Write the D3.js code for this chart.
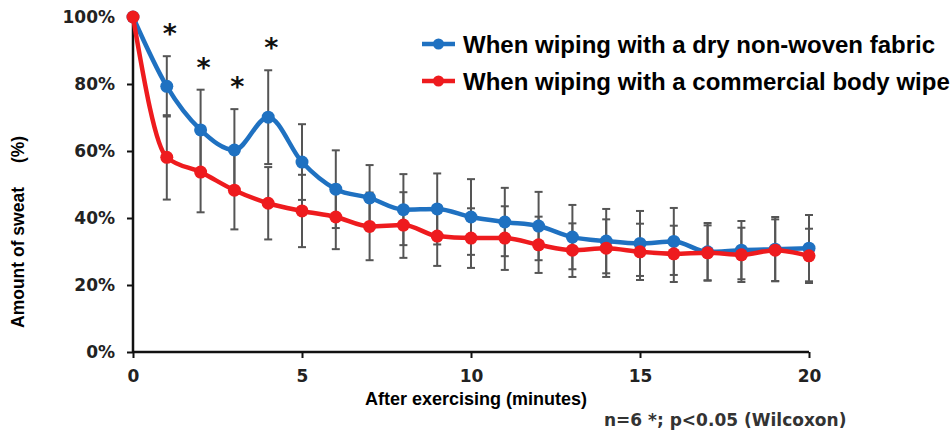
<!DOCTYPE html>
<html>
<head>
<meta charset="utf-8">
<script src="https://cdn.jsdelivr.net/npm/d3@7"></script>
<style>
  html, body { margin: 0; padding: 0; background: #fff; }
  svg { display: block; }
</style>
</head>
<body>
<svg id="chart" width="952" height="434"></svg>
<script>
// ---- data ----
const minutes = [0,1,2,3,4,5,6,7,8,9,10,11,12,13,14,15,16,17,18,19,20];
const dryFabric = [100,79.3,66.3,60.3,70.1,56.7,48.6,46,42.5,42.7,40.3,38.8,37.6,34.3,33.1,32.4,33,29.9,30.4,30.7,31];
const dryFabricSD = [0,9,12,12.2,14,11.3,11.6,9.8,10.6,10.6,11.3,10.2,10.2,9.6,9.6,9.7,10,8.6,8.7,9.6,9.9];
const bodyWipe = [100,58.1,53.7,48.3,44.4,42.1,40.3,37.5,37.9,34.6,34,34,32,30.4,31,29.9,29.3,29.6,29,30.4,28.7];
const bodyWipeSD = [0,12.6,12,11.7,10.8,10.8,9.6,10.1,9.8,8.9,8.9,9.5,8.4,8,8.6,8.4,8.4,8.2,8.1,9.2,8.1];
const significant = [1,2,3,4];
const xTicks = [0,5,10,15,20];
const yTicks = [0,20,40,60,80,100];
const seriesNames = ["When wiping with a dry non-woven fabric","When wiping with a commercial body wipe"];
const seriesColors = ["#1f71c1","#ee1b1e"];

const svg = d3.select("#chart");
const x = d3.scaleLinear().domain([0,20]).range([133,809]);
const y = d3.scaleLinear().domain([0,100]).range([352,17]);

const series = [
  {name: seriesNames[0], color: seriesColors[0], values: dryFabric, sd: dryFabricSD},
  {name: seriesNames[1], color: seriesColors[1], values: bodyWipe, sd: bodyWipeSD}
];

// error bars
const eb = svg.append("g").attr("stroke","#555").attr("stroke-width",2).attr("fill","none");
series.forEach(s => {
  minutes.forEach((m,i) => {
    if (s.sd[i] <= 0) return;
    const lo = y(s.values[i]-s.sd[i]), hi = y(s.values[i]+s.sd[i]), cx = x(m);
    eb.append("line").attr("x1",cx).attr("x2",cx).attr("y1",lo).attr("y2",hi);
    eb.append("line").attr("x1",cx-4).attr("x2",cx+4).attr("y1",lo).attr("y2",lo);
    eb.append("line").attr("x1",cx-4).attr("x2",cx+4).attr("y1",hi).attr("y2",hi);
  });
});

// axes
const yAxis = svg.append("g").attr("transform","translate(133,0)")
  .call(d3.axisLeft(y).tickValues(yTicks).tickFormat(d => d + "%").tickSize(6).tickPadding(12));
const xAxis = svg.append("g").attr("transform","translate(0,352)")
  .call(d3.axisBottom(x).tickValues(xTicks).tickSize(6).tickPadding(12));
[yAxis, xAxis].forEach(a => {
  a.select(".domain").attr("stroke","#111").attr("stroke-width",2.5);
  a.selectAll(".tick line").attr("stroke","#111").attr("stroke-width",2);
  a.selectAll(".tick text").attr("fill","#222")
    .style("font-family","DejaVu Sans, Verdana, sans-serif").style("font-weight","bold").style("font-size","17px");
});
yAxis.select(".domain").attr("d", `M0,${y(0)}V${y(100)}`);
xAxis.select(".domain").attr("d", `M${x(0)},0H${x(20)}`);

// lines
const line = d3.line().x((d,i) => x(minutes[i])).y(d => d).curve(d3.curveMonotoneX);
series.forEach(s => {
  svg.append("path").datum(s.values.map(v => y(v)))
    .attr("d", line).attr("fill","none").attr("stroke", s.color).attr("stroke-width",4.5)
    .attr("stroke-linejoin","round");
  svg.append("g").selectAll("circle").data(s.values).join("circle")
    .attr("cx",(d,i) => x(minutes[i])).attr("cy", d => y(d)).attr("r",6.5).attr("fill", s.color);
});

// significance stars
svg.append("g").selectAll("text").data(significant).join("text")
  .attr("x", i => x(minutes[i]) + 3)
  .attr("y", i => y(dryFabric[i] + dryFabricSD[i]) - 13)
  .attr("text-anchor","middle")
  .style("font-family","DejaVu Sans, sans-serif").style("font-weight","bold").style("font-size","27px")
  .attr("fill","#111").text("*");

// legend
const lg = svg.append("g");
series.forEach((s,i) => {
  const ly = 44 + i*37;
  lg.append("line").attr("x1",422).attr("x2",455).attr("y1",ly).attr("y2",ly)
    .attr("stroke",s.color).attr("stroke-width",4.5);
  lg.append("circle").attr("cx",438.5).attr("cy",ly).attr("r",5.5).attr("fill",s.color);
  lg.append("text").attr("x",463).attr("y",ly+9)
    .style("font-family","Liberation Sans, Arial, sans-serif").style("font-weight","bold").style("font-size","24px")
    .attr("fill","#000").text(s.name);
});

// axis titles
svg.append("text").attr("x",476).attr("y",405).attr("text-anchor","middle")
  .style("font-family","Liberation Sans, Arial, sans-serif").style("font-weight","bold").style("font-size","18px")
  .attr("fill","#000").text("After exercising (minutes)");
const yt = svg.append("text").attr("transform","translate(24,328) rotate(-90)").attr("text-anchor","start")
  .style("font-family","Liberation Sans, Arial, sans-serif").style("font-weight","bold").style("font-size","17.5px")
  .attr("fill","#000");
yt.append("tspan").text("Amount of sweat");
yt.append("tspan").attr("dx",24).text("(%)");

// footnote
svg.append("text").attr("x",604).attr("y",426)
  .style("font-family","DejaVu Sans, Verdana, sans-serif").style("font-weight","bold").style("font-size","17px")
  .attr("fill","#333").text("n=6 *; p<0.05 (Wilcoxon)");
</script>
</body>
</html>
